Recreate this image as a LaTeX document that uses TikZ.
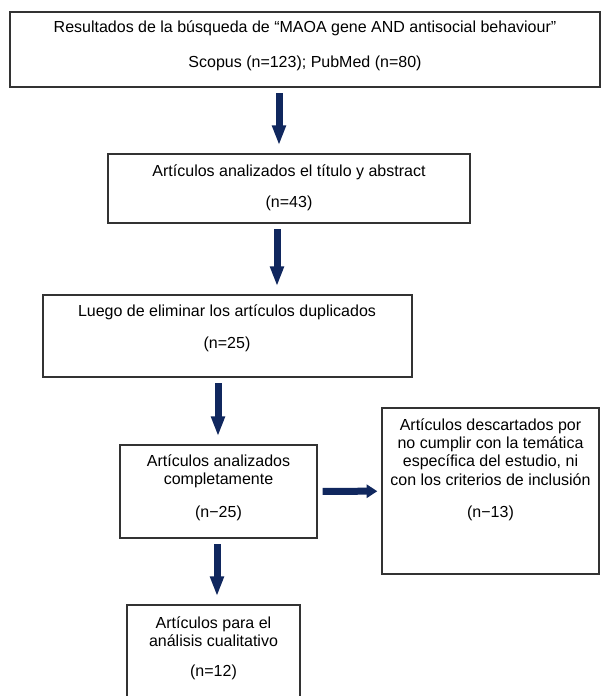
\documentclass[tikz,border=0pt]{standalone}
\usepackage{fontspec}
\setmainfont{Liberation Sans}
\usetikzlibrary{arrows.meta}
\definecolor{navy}{HTML}{10275E}

\begin{document}
\begin{tikzpicture}[x=0.75pt,y=-0.75pt]
        \tikzset{box/.style = {shape=rectangle,draw=black!80,line width=1pt,inner sep=0pt}}
        \tikzset{txt/.style = {align=center,inner sep=0pt,font=\fontsize{12}{13.8}\selectfont}}
        \tikzset{flow/.style = {navy,line width=5.25pt,-{Triangle[width=9.75pt,length=15pt]},shorten <=4pt,shorten >=6pt}}
        \tikzset{side/.style = {navy,line width=5.25pt,-{Triangle[width=9.75pt,length=8pt]},shorten <=3.75pt,shorten >=3pt}}
        \clip (0,0) rectangle (601,696);

        \node[box,minimum width=442.5pt,minimum height=56.25pt] (b1) at (305,49.5) {};
        \node[box,minimum width=271.5pt,minimum height=51.75pt] (b2) at (289,188.5) {};
        \node[box,minimum width=276.75pt,minimum height=61.5pt] (b3) at (227.5,336) {};
        \node[box,minimum width=147.75pt,minimum height=69.75pt] (b4) at (218.5,491.5) {};
        \node[box,minimum width=162.75pt,minimum height=124.5pt] (b5) at (490.5,491) {};
        \node[box,minimum width=129.75pt,minimum height=75pt] (b6) at (213.5,655) {};

        \node[txt] (t1) at (305,46) {Resultados de la búsqueda de “MAOA gene AND antisocial behaviour”\\[12.45pt] Scopus (n=123); PubMed (n=80)};
        \node[txt] (t2) at (289,188) {Artículos analizados el título y abstract\\[9.45pt] (n=43)};
        \node[txt] (t3) at (227,328.5) {Luego de eliminar los artículos duplicados\\[10.2pt] (n=25)};
        \node[txt] (t4) at (218.5,487.5) {Artículos analizados\\ completamente\\[10.95pt] (n−25)};
        \node[txt] (t5) at (490.5,469.5) {Artículos descartados por\\ no cumplir con la temática\\ específica del estudio, ni\\ con los criterios de inclusión\\[10.2pt] (n−13)};
        \node[txt] (t6) at (213.5,648.5) {Artículos para el\\ análisis cualitativo\\[8.7pt] (n=12)};

        \draw[flow] (b1.south -| 279,0) -- (b2.north -| 279,0);
        \draw[flow] (b2.south -| 277,0) -- (b3.north -| 277,0);
        \draw[flow] (b3.south -| 218,0) -- (b4.north -| 218,0);
        \draw[flow] (b4.south -| 217,0) -- (b6.north -| 217,0);
        \draw[side] (b4) -- (b5);
    \end{tikzpicture}
\end{document}
